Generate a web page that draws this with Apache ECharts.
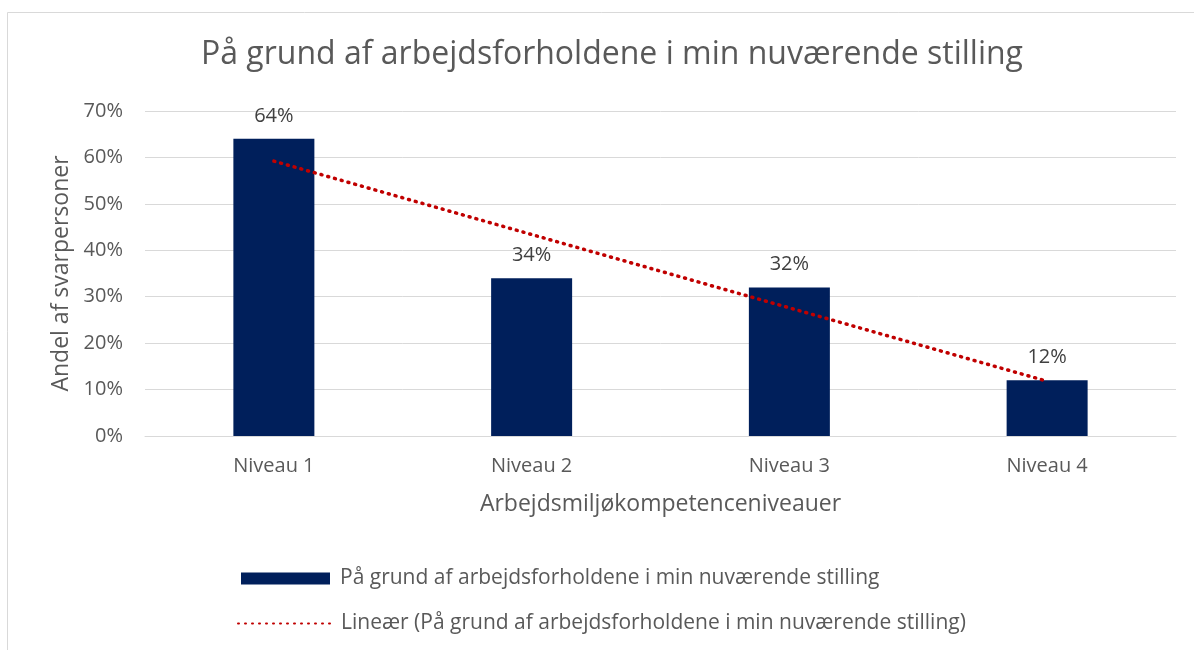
<!DOCTYPE html>
<html>
<head>
<meta charset="utf-8">
<script src="https://cdn.jsdelivr.net/npm/echarts@6/dist/echarts.min.js"></script>
<style>
  html, body { margin: 0; padding: 0; background: #fff; }
  #myChart { width: 1194px; height: 650px; }
</style>
</head>
<body>
<div id="myChart"></div>
<script>
  // data
  var categories = ['Niveau 1', 'Niveau 2', 'Niveau 3', 'Niveau 4'];
  var shareValues = [64, 34, 32, 12];
  var trendValues = [59.2, 43.4, 27.6, 11.8];
  var seriesName = 'På grund af arbejdsforholdene i min nuværende stilling';
  var trendName = 'Lineær (På grund af arbejdsforholdene i min nuværende stilling)';

  var font = '"Open Sans", "Noto Sans", sans-serif';
  var grey = '#595959';

  var myChart = echarts.init(document.getElementById('myChart'));
  var option = {
    backgroundColor: '#fff',
    textStyle: { fontFamily: font },
    graphic: [{
      type: 'rect',
      shape: { x: 7.5, y: 12.5, width: 1200, height: 660 },
      style: { fill: 'none', stroke: '#d9d9d9', lineWidth: 1 },
      silent: true
    }],
    title: {
      text: seriesName,
      left: 607,
      textAlign: 'center',
      top: 34,
      textStyle: { fontSize: 32, fontWeight: 'normal', color: grey, fontFamily: font }
    },
    legend: [{
      data: [{ name: seriesName, icon: 'rect' }],
      orient: 'vertical',
      left: 236,
      top: 563,
      itemWidth: 89,
      itemHeight: 12,
      textStyle: { fontSize: 21, color: grey, fontFamily: font, padding: [0, 0, 0, 5] }
    }, {
      data: [trendName],
      orient: 'vertical',
      left: 232,
      top: 608,
      itemWidth: 93,
      itemHeight: 12,
      itemStyle: { opacity: 0 },
      textStyle: { fontSize: 21, color: grey, fontFamily: font, padding: [0, 0, 0, 5] }
    }],
    grid: { left: 145, right: 18, top: 111, bottom: 214 },
    xAxis: {
      type: 'category',
      data: categories,
      name: 'Arbejdsmiljøkompetenceniveauer',
      nameLocation: 'middle',
      nameGap: 57,
      nameTextStyle: { fontSize: 23, color: grey },
      axisLine: { lineStyle: { color: '#d9d9d9' } },
      axisTick: { show: false },
      axisLabel: { fontSize: 20, color: grey, margin: 20 }
    },
    yAxis: {
      type: 'value',
      min: 0,
      max: 70,
      interval: 10,
      name: 'Andel af svarpersoner',
      nameLocation: 'middle',
      nameGap: 72,
      nameTextStyle: { fontSize: 23, color: grey },
      axisLabel: { formatter: '{value}%', fontSize: 20, color: grey, margin: 22 },
      axisLine: { show: false },
      axisTick: { show: false },
      splitLine: { lineStyle: { color: '#d9d9d9', width: 1 } }
    },
    series: [{
      name: seriesName,
      type: 'bar',
      data: shareValues,
      barWidth: 81,
      itemStyle: { color: '#001f5b' },
      label: {
        show: true,
        position: 'top',
        distance: 13,
        formatter: '{c}%',
        fontSize: 20,
        color: '#404040',
        fontFamily: font
      }
    }, {
      name: trendName,
      type: 'line',
      data: trendValues,
      symbol: 'none',
      z: 5,
      itemStyle: { color: '#c00000' },
      lineStyle: { color: '#c00000', width: 3.5, type: [1, 6], cap: 'round' }
    }]
  };
  myChart.setOption(option);
</script>
</body>
</html>
